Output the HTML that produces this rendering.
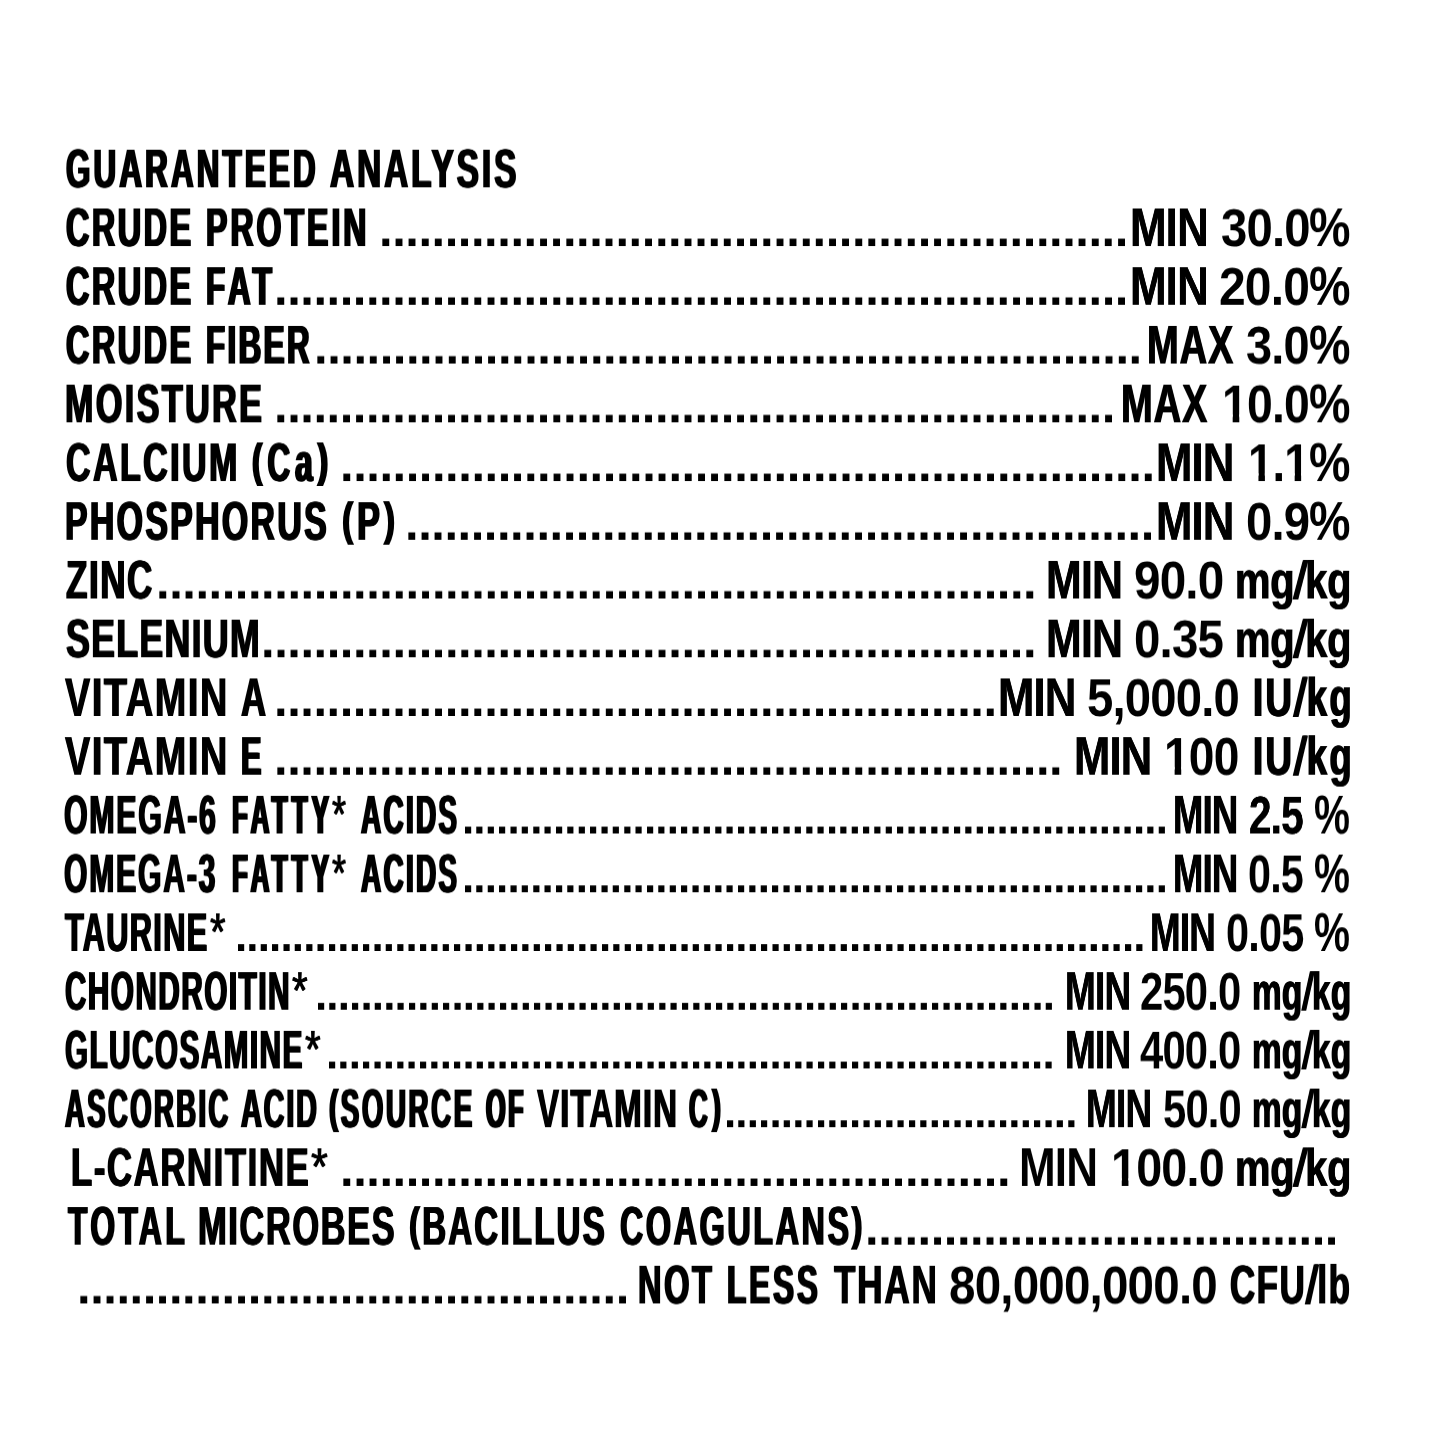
<!DOCTYPE html>
<html lang="en"><head><meta charset="utf-8"><title>Guaranteed Analysis</title><style>
html,body{margin:0;padding:0;background:#fff;}
body{width:1445px;height:1445px;position:relative;overflow:hidden;}
.r{position:absolute;left:0;width:1445px;height:64px;transform-origin:0 45px;will-change:transform;}
.w,.d{position:absolute;top:0;white-space:pre;line-height:1;color:#000;
 font-family:"Liberation Sans",sans-serif;font-weight:700;font-kerning:normal;
 font-variant-ligatures:none;transform-origin:0 45px;display:block;}
.w{font-size:54.652px;}
.d{font-size:50.361px;top:3px;}
.d.n{font-size:46.332px;top:6px;}
.w.a{font-weight:400;}
.w u{display:inline-block;text-decoration:none;transform-origin:50% 60%;transform:skewX(-9deg);}
.w i{display:inline-block;font-style:normal;transform-origin:0 45px;transform:translateY(-4.9px) scaleY(0.835);}
.w b{display:inline-block;font-weight:inherit;}
</style></head>
<body>
<div class="r" style="top:142px;transform:translateY(0.30px) scaleY(0.9895)"><span class="w" style="left:66.46px;transform:scaleX(0.5733);letter-spacing:5.54px;text-shadow:1.82px 0 0 #000,-1.82px 0 0 #000;">GUARANTEED</span> <span class="w" style="left:330.26px;transform:scaleX(0.6110);letter-spacing:4.84px;text-shadow:1.47px 0 0 #000,-1.47px 0 0 #000;">ANALYSIS</span></div>
<div class="r" style="top:201px;transform:translateY(0.04px) scaleY(0.9895)"><span class="w" style="left:66.34px;transform:scaleX(0.5926);letter-spacing:4.22px;text-shadow:1.63px 0 0 #000,-1.63px 0 0 #000;">CRUDE</span> <span class="w" style="left:206.25px;transform:scaleX(0.5855);letter-spacing:5.20px;text-shadow:1.70px 0 0 #000,-1.70px 0 0 #000;">PROTEIN</span> <span class="d" style="left:379.19px;transform:scaleX(0.9709);letter-spacing:-0.46px;">.........................................................</span> <span class="w" style="left:1130.31px;transform:scaleX(0.8027);letter-spacing:-1.00px;text-shadow:0.17px 0 0 #000,-0.17px 0 0 #000;">MIN</span> <span class="w" style="left:1220.52px;transform:translateY(0.00px) scale(0.8642,0.970);letter-spacing:-0.93px;">30.0</span><span class="w" style="left:1309.44px;transform:scaleX(0.8539);letter-spacing:0.00px;">%</span></div>
<div class="r" style="top:259px;transform:translateY(0.78px) scaleY(0.9895)"><span class="w" style="left:66.34px;transform:scaleX(0.5926);letter-spacing:4.22px;text-shadow:1.63px 0 0 #000,-1.63px 0 0 #000;">CRUDE</span> <span class="w" style="left:206.33px;transform:scaleX(0.5753);letter-spacing:7.67px;text-shadow:1.80px 0 0 #000,-1.80px 0 0 #000;">FAT</span><span class="d" style="left:274.08px;transform:scaleX(0.9709);letter-spacing:-0.46px;">.................................................................</span> <span class="w" style="left:1130.31px;transform:scaleX(0.8027);letter-spacing:-1.00px;text-shadow:0.17px 0 0 #000,-0.17px 0 0 #000;">MIN</span> <span class="w" style="left:1219.14px;transform:translateY(0.00px) scale(0.8775,0.970);letter-spacing:-0.91px;">20.0</span><span class="w" style="left:1309.44px;transform:scaleX(0.8539);letter-spacing:0.00px;">%</span></div>
<div class="r" style="top:318px;transform:translateY(0.53px) scaleY(0.9895)"><span class="w" style="left:66.34px;transform:scaleX(0.5926);letter-spacing:4.22px;text-shadow:1.63px 0 0 #000,-1.63px 0 0 #000;">CRUDE</span> <span class="w" style="left:206.36px;transform:scaleX(0.5721);letter-spacing:4.26px;text-shadow:1.83px 0 0 #000,-1.83px 0 0 #000;">FIBER</span> <span class="d" style="left:313.50px;transform:scaleX(0.9709);letter-spacing:-0.46px;">...............................................................</span> <span class="w" style="left:1146.51px;transform:scaleX(0.6974);letter-spacing:1.28px;text-shadow:0.80px 0 0 #000,-0.80px 0 0 #000;">MAX</span> <span class="w" style="left:1246.32px;transform:translateY(0.00px) scale(0.8596,0.970);letter-spacing:-0.93px;">3.0</span><span class="w" style="left:1309.44px;transform:scaleX(0.8539);letter-spacing:0.00px;">%</span></div>
<div class="r" style="top:377px;transform:translateY(0.27px) scaleY(0.9895)"><span class="w" style="left:65.26px;transform:scaleX(0.6238);letter-spacing:3.89px;text-shadow:1.35px 0 0 #000,-1.35px 0 0 #000;">MOISTURE</span> <span class="d" style="left:274.08px;transform:scaleX(0.9709);letter-spacing:-0.46px;">................................................................</span> <span class="w" style="left:1120.91px;transform:scaleX(0.6974);letter-spacing:1.28px;text-shadow:0.80px 0 0 #000,-0.80px 0 0 #000;">MAX</span> <span class="w" style="left:1222.23px;transform:translateY(0.00px) scale(0.8477,0.970);letter-spacing:-0.94px;"><b style="clip-path:polygon(0 0,100% 0,100% 37px,20.4px 37px,20.4px 100%,12.6px 100%,12.6px 37px,0 37px)">1</b>0.0</span><span class="w" style="left:1309.44px;transform:scaleX(0.8539);letter-spacing:0.00px;">%</span></div>
<div class="r" style="top:436px;transform:translateY(0.01px) scaleY(0.9895)"><span class="w" style="left:66.15px;transform:scaleX(0.6238);letter-spacing:3.80px;text-shadow:1.35px 0 0 #000,-1.35px 0 0 #000;">CALCIUM</span> <span class="w" style="left:252.27px;transform:scaleX(0.5745);letter-spacing:8.71px;text-shadow:1.81px 0 0 #000,-1.81px 0 0 #000;"><i>(</i>Ca<i>)</i></span> <span class="d" style="left:339.78px;transform:scaleX(0.9709);letter-spacing:-0.46px;">..............................................................</span> <span class="w" style="left:1156.44px;transform:scaleX(0.7980);letter-spacing:-1.00px;text-shadow:0.20px 0 0 #000,-0.20px 0 0 #000;">MIN</span> <span class="w" style="left:1248.20px;transform:translateY(0.00px) scale(0.8294,0.970);letter-spacing:-0.96px;"><b style="clip-path:polygon(0 0,100% 0,100% 37px,20.4px 37px,20.4px 100%,12.6px 100%,12.6px 37px,0 37px)">1</b>.<b style="clip-path:polygon(0 0,100% 0,100% 37px,20.4px 37px,20.4px 100%,12.6px 100%,12.6px 37px,0 37px)">1</b></span> <span class="w" style="left:1309.44px;transform:scaleX(0.8539);letter-spacing:0.00px;">%</span></div>
<div class="r" style="top:494px;transform:translateY(0.75px) scaleY(0.9895)"><span class="w" style="left:65.30px;transform:scaleX(0.6191);letter-spacing:3.77px;text-shadow:1.39px 0 0 #000,-1.39px 0 0 #000;">PHOSPHORUS</span> <span class="w" style="left:341.85px;transform:scaleX(0.6237);letter-spacing:6.15px;text-shadow:1.36px 0 0 #000,-1.36px 0 0 #000;"><i>(</i>P<i>)</i></span> <span class="d" style="left:405.47px;transform:scaleX(0.9709);letter-spacing:-0.46px;">.........................................................</span> <span class="w" style="left:1156.44px;transform:scaleX(0.7980);letter-spacing:-1.00px;text-shadow:0.20px 0 0 #000,-0.20px 0 0 #000;">MIN</span> <span class="w" style="left:1245.53px;transform:translateY(0.00px) scale(0.8651,0.970);letter-spacing:-0.92px;">0.9</span><span class="w" style="left:1309.44px;transform:scaleX(0.8539);letter-spacing:0.00px;">%</span></div>
<div class="r" style="top:553px;transform:translateY(0.49px) scaleY(0.9895)"><span class="w" style="left:66.43px;transform:scaleX(0.6423);letter-spacing:2.32px;text-shadow:1.20px 0 0 #000,-1.20px 0 0 #000;">ZINC</span> <span class="d" style="left:155.83px;transform:scaleX(0.9709);letter-spacing:-0.46px;">...................................................................</span> <span class="w" style="left:1045.74px;transform:scaleX(0.7851);letter-spacing:-1.02px;text-shadow:0.27px 0 0 #000,-0.27px 0 0 #000;">MIN</span> <span class="w" style="left:1134.45px;transform:translateY(0.00px) scale(0.8716,0.970);letter-spacing:-0.92px;">90.0</span> <span class="w" style="left:1235.30px;transform:translateY(0.00px) scale(0.7299,0.980);letter-spacing:-0.32px;text-shadow:0.58px 0 0 #000,-0.58px 0 0 #000;">mg<u>/</u>kg</span></div>
<div class="r" style="top:612px;transform:translateY(0.24px) scaleY(0.9895)"><span class="w" style="left:66.38px;transform:scaleX(0.6563);letter-spacing:1.84px;text-shadow:1.09px 0 0 #000,-1.09px 0 0 #000;">SELENIUM</span><span class="d" style="left:260.94px;transform:scaleX(0.9709);letter-spacing:-0.46px;">...........................................................</span> <span class="w" style="left:1045.74px;transform:scaleX(0.7851);letter-spacing:-1.02px;text-shadow:0.27px 0 0 #000,-0.27px 0 0 #000;">MIN</span> <span class="w" style="left:1134.22px;transform:translateY(0.00px) scale(0.8677,0.970);letter-spacing:-0.92px;">0.35</span> <span class="w" style="left:1235.30px;transform:translateY(0.00px) scale(0.7299,0.980);letter-spacing:-0.32px;text-shadow:0.58px 0 0 #000,-0.58px 0 0 #000;">mg<u>/</u>kg</span></div>
<div class="r" style="top:670px;transform:translateY(0.98px) scaleY(0.9895)"><span class="w" style="left:65.21px;transform:scaleX(0.6929);letter-spacing:2.29px;text-shadow:0.83px 0 0 #000,-0.83px 0 0 #000;">VITAMIN</span> <span class="w" style="left:240.53px;transform:scaleX(0.6355);letter-spacing:0.00px;text-shadow:1.26px 0 0 #000,-1.26px 0 0 #000;">A</span> <span class="d" style="left:274.08px;transform:scaleX(0.9709);letter-spacing:-0.46px;">.......................................................</span> <span class="w" style="left:997.74px;transform:scaleX(0.7980);letter-spacing:-1.00px;text-shadow:0.20px 0 0 #000,-0.20px 0 0 #000;">MIN</span> <span class="w" style="left:1086.55px;transform:translateY(0.00px) scale(0.8649,0.970);letter-spacing:-0.92px;">5,000.0</span> <span class="w" style="left:1252.62px;transform:scaleX(0.6696);letter-spacing:3.47px;text-shadow:0.99px 0 0 #000,-0.99px 0 0 #000;">IU<u>/</u>kg</span></div>
<div class="r" style="top:729px;transform:translateY(0.72px) scaleY(0.9895)"><span class="w" style="left:65.21px;transform:scaleX(0.6929);letter-spacing:2.29px;text-shadow:0.83px 0 0 #000,-0.83px 0 0 #000;">VITAMIN</span> <span class="w" style="left:241.34px;transform:scaleX(0.5616);letter-spacing:0.00px;text-shadow:1.94px 0 0 #000,-1.94px 0 0 #000;">E</span> <span class="d" style="left:274.08px;transform:scaleX(0.9709);letter-spacing:-0.46px;">............................................................</span> <span class="w" style="left:1073.75px;transform:scaleX(0.7968);letter-spacing:-1.00px;text-shadow:0.21px 0 0 #000,-0.21px 0 0 #000;">MIN</span> <span class="w" style="left:1164.05px;transform:translateY(0.00px) scale(0.8438,0.970);letter-spacing:-0.95px;"><b style="clip-path:polygon(0 0,100% 0,100% 37px,20.4px 37px,20.4px 100%,12.6px 100%,12.6px 37px,0 37px)">1</b>00</span> <span class="w" style="left:1252.62px;transform:scaleX(0.6696);letter-spacing:3.47px;text-shadow:0.99px 0 0 #000,-0.99px 0 0 #000;">IU<u>/</u>kg</span></div>
<div class="r" style="top:788px;transform:translateY(0.46px) scaleY(0.9895)"><span class="w" style="left:64.44px;transform:scaleX(0.5566);letter-spacing:3.00px;text-shadow:1.41px 0 0 #000,-1.41px 0 0 #000;">OMEGA-6</span> <span class="w" style="left:232.46px;transform:scaleX(0.4767);letter-spacing:8.66px;text-shadow:2.30px 0 0 #000,-2.30px 0 0 #000;">FATTY</span><span class="w a" style="left:331.97px;transform:translateY(-1.10px) scale(0.6604,0.970);letter-spacing:0.00px;text-shadow:0.83px 0 0 #000,-0.83px 0 0 #000;">*</span> <span class="w" style="left:360.86px;transform:scaleX(0.5119);letter-spacing:4.41px;text-shadow:1.88px 0 0 #000,-1.88px 0 0 #000;">ACIDS</span> <span class="d n" style="left:462.42px;transform:scaleX(0.9483);letter-spacing:-0.88px;">..............................................................</span> <span class="w" style="left:1172.61px;transform:scaleX(0.6668);letter-spacing:-1.20px;text-shadow:0.53px 0 0 #000,-0.53px 0 0 #000;">MIN</span> <span class="w" style="left:1249.38px;transform:translateY(0.00px) scale(0.7405,0.970);letter-spacing:-1.08px;text-shadow:0.12px 0 0 #000,-0.12px 0 0 #000;">2.5</span> <span class="w" style="left:1314.39px;transform:scaleX(0.7403);letter-spacing:0.00px;">%</span></div>
<div class="r" style="top:847px;transform:translateY(0.20px) scaleY(0.9895)"><span class="w" style="left:64.47px;transform:scaleX(0.5511);letter-spacing:3.29px;text-shadow:1.46px 0 0 #000,-1.46px 0 0 #000;">OMEGA-3</span> <span class="w" style="left:232.46px;transform:scaleX(0.4767);letter-spacing:8.66px;text-shadow:2.30px 0 0 #000,-2.30px 0 0 #000;">FATTY</span><span class="w a" style="left:331.97px;transform:translateY(-1.10px) scale(0.6604,0.970);letter-spacing:0.00px;text-shadow:0.83px 0 0 #000,-0.83px 0 0 #000;">*</span> <span class="w" style="left:360.86px;transform:scaleX(0.5119);letter-spacing:4.41px;text-shadow:1.88px 0 0 #000,-1.88px 0 0 #000;">ACIDS</span> <span class="d n" style="left:462.42px;transform:scaleX(0.9483);letter-spacing:-0.88px;">..............................................................</span> <span class="w" style="left:1172.61px;transform:scaleX(0.6668);letter-spacing:-1.20px;text-shadow:0.53px 0 0 #000,-0.53px 0 0 #000;">MIN</span> <span class="w" style="left:1248.29px;transform:translateY(0.00px) scale(0.7560,0.970);letter-spacing:-1.06px;">0.5</span> <span class="w" style="left:1314.39px;transform:scaleX(0.7403);letter-spacing:0.00px;">%</span></div>
<div class="r" style="top:905px;transform:translateY(0.95px) scaleY(0.9895)"><span class="w" style="left:64.62px;transform:scaleX(0.5623);letter-spacing:2.35px;text-shadow:1.35px 0 0 #000,-1.35px 0 0 #000;">TAURINE</span><span class="w a" style="left:210.01px;transform:translateY(-1.10px) scale(0.7320,0.970);letter-spacing:0.00px;text-shadow:0.75px 0 0 #000,-0.75px 0 0 #000;">*</span> <span class="d n" style="left:234.92px;transform:scaleX(0.9483);letter-spacing:-0.88px;">................................................................................</span> <span class="w" style="left:1150.17px;transform:scaleX(0.6727);letter-spacing:-1.19px;text-shadow:0.49px 0 0 #000,-0.49px 0 0 #000;">MIN</span> <span class="w" style="left:1225.88px;transform:translateY(0.00px) scale(0.7584,0.970);letter-spacing:-1.05px;">0.05</span> <span class="w" style="left:1314.39px;transform:scaleX(0.7403);letter-spacing:0.00px;">%</span></div>
<div class="r" style="top:964px;transform:translateY(0.69px) scaleY(0.9895)"><span class="w" style="left:64.53px;transform:scaleX(0.5411);letter-spacing:2.94px;text-shadow:1.56px 0 0 #000,-1.56px 0 0 #000;">CHONDROITIN</span><span class="w a" style="left:291.50px;transform:translateY(-1.10px) scale(0.7371,0.970);letter-spacing:0.00px;text-shadow:0.75px 0 0 #000,-0.75px 0 0 #000;">*</span> <span class="d n" style="left:314.54px;transform:scaleX(0.9483);letter-spacing:-0.88px;">.................................................................</span> <span class="w" style="left:1064.94px;transform:scaleX(0.6762);letter-spacing:-1.18px;text-shadow:0.46px 0 0 #000,-0.46px 0 0 #000;">MIN</span> <span class="w" style="left:1140.35px;transform:translateY(0.00px) scale(0.7646,0.970);letter-spacing:-1.05px;">250.0</span> <span class="w" style="left:1252.08px;transform:translateY(0.00px) scale(0.6100,0.980);letter-spacing:0.42px;text-shadow:0.94px 0 0 #000,-0.94px 0 0 #000;">mg<u>/</u>kg</span></div>
<div class="r" style="top:1023px;transform:translateY(0.43px) scaleY(0.9895)"><span class="w" style="left:64.54px;transform:scaleX(0.5406);letter-spacing:2.92px;text-shadow:1.57px 0 0 #000,-1.57px 0 0 #000;">GLUCOSAMINE</span><span class="w a" style="left:305.20px;transform:translateY(-1.10px) scale(0.7371,0.970);letter-spacing:0.00px;text-shadow:0.75px 0 0 #000,-0.75px 0 0 #000;">*</span> <span class="d n" style="left:325.92px;transform:scaleX(0.9483);letter-spacing:-0.88px;">................................................................</span> <span class="w" style="left:1064.94px;transform:scaleX(0.6762);letter-spacing:-1.18px;text-shadow:0.46px 0 0 #000,-0.46px 0 0 #000;">MIN</span> <span class="w" style="left:1140.37px;transform:translateY(0.00px) scale(0.7645,0.970);letter-spacing:-1.05px;">400.0</span> <span class="w" style="left:1252.08px;transform:translateY(0.00px) scale(0.6100,0.980);letter-spacing:0.42px;text-shadow:0.94px 0 0 #000,-0.94px 0 0 #000;">mg<u>/</u>kg</span></div>
<div class="r" style="top:1082px;transform:translateY(0.17px) scaleY(0.9895)"><span class="w" style="left:64.52px;transform:scaleX(0.5007);letter-spacing:4.96px;text-shadow:2.01px 0 0 #000,-2.01px 0 0 #000;">ASCORBIC</span> <span class="w" style="left:240.78px;transform:scaleX(0.5274);letter-spacing:3.53px;text-shadow:1.70px 0 0 #000,-1.70px 0 0 #000;">ACID</span> <span class="w" style="left:329.10px;transform:scaleX(0.5071);letter-spacing:5.07px;text-shadow:1.93px 0 0 #000,-1.93px 0 0 #000;"><i>(</i>SOURCE</span> <span class="w" style="left:486.13px;transform:scaleX(0.4604);letter-spacing:5.40px;text-shadow:2.53px 0 0 #000,-2.53px 0 0 #000;">OF</span> <span class="w" style="left:536.86px;transform:scaleX(0.6066);letter-spacing:1.72px;text-shadow:0.97px 0 0 #000,-0.97px 0 0 #000;">VITAMIN</span> <span class="w" style="left:689.04px;transform:scaleX(0.4744);letter-spacing:9.23px;text-shadow:2.33px 0 0 #000,-2.33px 0 0 #000;">C<i>)</i></span> <span class="d n" style="left:724.04px;transform:scaleX(0.9483);letter-spacing:-0.88px;">...............................</span> <span class="w" style="left:1086.34px;transform:scaleX(0.6762);letter-spacing:-1.18px;text-shadow:0.46px 0 0 #000,-0.46px 0 0 #000;">MIN</span> <span class="w" style="left:1162.92px;transform:translateY(0.00px) scale(0.7634,0.970);letter-spacing:-1.05px;">50.0</span> <span class="w" style="left:1252.08px;transform:translateY(0.00px) scale(0.6100,0.980);letter-spacing:0.42px;text-shadow:0.94px 0 0 #000,-0.94px 0 0 #000;">mg<u>/</u>kg</span></div>
<div class="r" style="top:1140px;transform:translateY(0.91px) scaleY(0.9895)"><span class="w" style="left:70.74px;transform:scaleX(0.6339);letter-spacing:2.60px;text-shadow:1.03px 0 0 #000,-1.03px 0 0 #000;">L-CARNITINE</span><span class="w a" style="left:311.45px;transform:translateY(-1.10px) scale(0.7934,0.970);letter-spacing:0.00px;text-shadow:0.69px 0 0 #000,-0.69px 0 0 #000;">*</span> <span class="d" style="left:339.78px;transform:scaleX(0.9709);letter-spacing:-0.46px;">...................................................</span> <span class="w" style="left:1019.05px;transform:scaleX(0.8057);letter-spacing:-0.99px;">MIN</span> <span class="w" style="left:1111.01px;transform:translateY(0.00px) scale(0.8549,0.970);letter-spacing:-0.94px;"><b style="clip-path:polygon(0 0,100% 0,100% 37px,20.4px 37px,20.4px 100%,12.6px 100%,12.6px 37px,0 37px)">1</b>00.0</span> <span class="w" style="left:1235.30px;transform:translateY(0.00px) scale(0.7299,0.980);letter-spacing:-0.32px;text-shadow:0.58px 0 0 #000,-0.58px 0 0 #000;">mg<u>/</u>kg</span></div>
<div class="r" style="top:1199px;transform:translateY(0.66px) scaleY(0.9895)"><span class="w" style="left:67.91px;transform:scaleX(0.5806);letter-spacing:5.98px;text-shadow:1.49px 0 0 #000,-1.49px 0 0 #000;">TOTAL</span> <span class="w" style="left:197.76px;transform:scaleX(0.6312);letter-spacing:2.45px;text-shadow:1.05px 0 0 #000,-1.05px 0 0 #000;">MICROBES</span> <span class="w" style="left:409.12px;transform:scaleX(0.6050);letter-spacing:3.63px;text-shadow:1.27px 0 0 #000,-1.27px 0 0 #000;"><i>(</i>BACILLUS</span> <span class="w" style="left:620.00px;transform:scaleX(0.5914);letter-spacing:4.39px;text-shadow:1.39px 0 0 #000,-1.39px 0 0 #000;">COAGULANS<i>)</i></span> <span class="d" style="left:865.34px;transform:scaleX(0.9709);letter-spacing:-0.46px;">....................................</span></div>
<div class="r" style="top:1258px;transform:translateY(0.40px) scaleY(0.9895)"><span class="d" style="left:77.00px;transform:scaleX(0.9709);letter-spacing:-0.46px;">..........................................</span> <span class="w" style="left:638.32px;transform:scaleX(0.5962);letter-spacing:4.32px;text-shadow:1.35px 0 0 #000,-1.35px 0 0 #000;">NOT</span> <span class="w" style="left:727.18px;transform:scaleX(0.5750);letter-spacing:5.09px;text-shadow:1.54px 0 0 #000,-1.54px 0 0 #000;">LESS</span> <span class="w" style="left:833.62px;transform:scaleX(0.6436);letter-spacing:2.71px;text-shadow:0.96px 0 0 #000,-0.96px 0 0 #000;">THAN</span> <span class="w" style="left:948.99px;transform:translateY(0.00px) scale(0.8699,0.970);letter-spacing:-0.92px;">80,000,000.0</span> <span class="w" style="left:1229.91px;transform:scaleX(0.6373);letter-spacing:2.44px;text-shadow:1.01px 0 0 #000,-1.01px 0 0 #000;">CFU<u>/</u>lb</span></div>
</body></html>
